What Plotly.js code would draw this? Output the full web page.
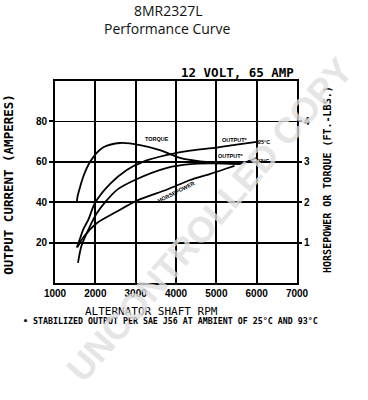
<!DOCTYPE html>
<html>
<head>
<meta charset="utf-8">
<script src="https://cdn.plot.ly/plotly-3.0.1.min.js"></script>
<style>html,body{margin:0;padding:0;background:#fff;}#chart{width:368px;height:400px;}</style>
</head>
<body>
<div id="chart"></div>
<script>
// Data (x = alternator shaft RPM, y = amperes on left scale)
const out25Rpm = [1540, 1620, 1700, 1830, 1990, 2360, 2780, 3180, 3780, 4350, 5000, 5500, 6050];
const out25Amp = [17.5, 22, 26.5, 31.5, 39.6, 49, 56, 60, 63.4, 65.5, 67, 68.5, 70];

const out93Rpm = [1570, 1650, 1790, 2040, 2530, 2980, 3780, 4350, 4850, 5300, 5590, 5800, 6010];
const out93Amp = [10, 18, 24.8, 34.7, 46, 51, 57, 58.8, 59.2, 59.1, 59, 60.3, 61.9];

const torqueRpm = [1540, 1560, 1600, 1700, 1870, 2040, 2200, 2610, 3110, 3600, 4100, 4600, 5100, 5590];
const torqueAmp = [39.6, 43, 46, 52.6, 60, 64.5, 67.2, 69.3, 68.3, 65.8, 61.9, 60.2, 59.5, 59];

const hpRpm = [1560, 1700, 2040, 2500, 3030, 3780, 4350, 4850, 5270, 5450];
const hpAmp = [17.8, 22.5, 29.7, 35, 40.8, 46.3, 51, 54, 56.8, 58];

const xTicks = [1000, 2000, 3000, 4000, 5000, 6000, 7000];
const xTickText = ['1000', '2000', '3000', '4000', '5000', '6000', '7000'];
const yTicks = [20, 40, 60, 80];
const y2Ticks = [1, 2, 3, 4];

const curveLabels = [
  {text: 'TORQUE', x: 3530, y: 71.3, angle: 0},
  {text: 'OUTPUT*', x: 5470, y: 70.8, angle: 0},
  {text: '25°C', x: 6170, y: 69.8, angle: 0},
  {text: 'OUTPUT*', x: 5370, y: 62.9, angle: 0},
  {text: '93°C', x: 6150, y: 60.4, angle: 0},
  {text: 'HORSEPOWER', x: 4000, y: 45, angle: -27}
];

const lineStyle = {color: '#000', width: 1.8, shape: 'spline', smoothing: 0.8};
const traces = [
  {x: out25Rpm, y: out25Amp, mode: 'lines', line: lineStyle, hoverinfo: 'skip'},
  {x: out93Rpm, y: out93Amp, mode: 'lines', line: lineStyle, hoverinfo: 'skip'},
  {x: torqueRpm, y: torqueAmp, mode: 'lines', line: lineStyle, hoverinfo: 'skip'},
  {x: hpRpm, y: hpAmp, mode: 'lines', line: lineStyle, hoverinfo: 'skip'},
  {x: [1000, 7000], y: [0, 5], yaxis: 'y2', mode: 'lines', opacity: 0, hoverinfo: 'skip'}
];

const mono = 'DejaVu Sans Mono, monospace';
function paperNote(text, x, y, font, extra) {
  return Object.assign({text: text, xref: 'paper', yref: 'paper', x: x, y: y, xanchor: 'center', yanchor: 'middle',
    showarrow: false, font: font}, extra || {});
}
const annotations = [
  paperNote('8MR2327L', 0.467, 1.351, {family: 'Open Sans, sans-serif', size: 14, color: '#111'}),
  paperNote('Performance Curve', 0.465, 1.262, {family: 'Open Sans, sans-serif', size: 14, color: '#111'}),
  paperNote('<b>12 VOLT, 65 AMP</b>', 0.995, 1.04, {family: mono, size: 12.5, color: '#000'}, {xanchor: 'right'}),
  paperNote('<b>OUTPUT CURRENT (AMPERES)</b>', -0.195, 0.49, {family: mono, size: 12.5, color: '#000'}, {textangle: -90}),
  paperNote('<b>HORSEPOWER OR TORQUE (FT.-LBS.)</b>', 1.128, 0.515, {family: mono, size: 10, color: '#000'}, {textangle: -90}),
  paperNote('ALTERNATOR SHAFT RPM', 0.40, -0.139, {family: mono, size: 11, color: '#000'}),
  paperNote('<b>• STABILIZED OUTPUT PER SAE J56 AT AMBIENT OF 25°C AND 93°C</b>', 0.479, -0.188, {family: mono, size: 8.3, color: '#000'})
];
curveLabels.forEach(l => annotations.push({
  text: '<b>' + l.text + '</b>', xref: 'x', yref: 'y', x: l.x, y: l.y, xanchor: 'center', yanchor: 'middle',
  showarrow: false, textangle: l.angle,
  font: {family: 'Liberation Sans, sans-serif', size: 5.5, color: '#000'}
}));
annotations.push(paperNote('<b>UNCONTROLLED COPY</b>', 0.64, 0.312,
  {family: 'Liberation Sans, Arial, sans-serif', size: 36, color: 'rgba(222,222,222,0.8)'}, {textangle: -49}));

const tickFont = {family: 'Liberation Sans, Arial, sans-serif', size: 10, color: '#000', weight: 'bold'};
const layout = {
  width: 368, height: 400,
  margin: {l: 55, r: 71, t: 81, b: 117, pad: 0},
  paper_bgcolor: '#fff', plot_bgcolor: '#fff',
  showlegend: false,
  xaxis: {range: [1000, 7000], tickvals: xTicks, ticktext: xTickText, showgrid: true, gridcolor: '#000', gridwidth: 1.8,
          showline: true, linecolor: '#000', linewidth: 2, mirror: true, ticks: '', zeroline: false, tickfont: tickFont, fixedrange: true},
  yaxis: {range: [0, 100], tickvals: yTicks, showgrid: true, gridcolor: '#000', gridwidth: 1.8,
          showline: true, linecolor: '#000', linewidth: 2, mirror: true, ticks: 'outside', ticklen: 4, tickwidth: 2, tickcolor: '#000',
          zeroline: false, tickfont: tickFont, fixedrange: true},
  yaxis2: {range: [0, 5], overlaying: 'y', side: 'right', tickvals: y2Ticks, showgrid: false, zeroline: false,
           showline: true, linecolor: '#000', linewidth: 2, ticks: 'outside', ticklen: 3, tickwidth: 2, tickcolor: '#000',
           tickfont: tickFont, fixedrange: true},
  annotations: annotations
};

Plotly.newPlot('chart', traces, layout, {staticPlot: true, displayModeBar: false});
</script>
</body>
</html>
